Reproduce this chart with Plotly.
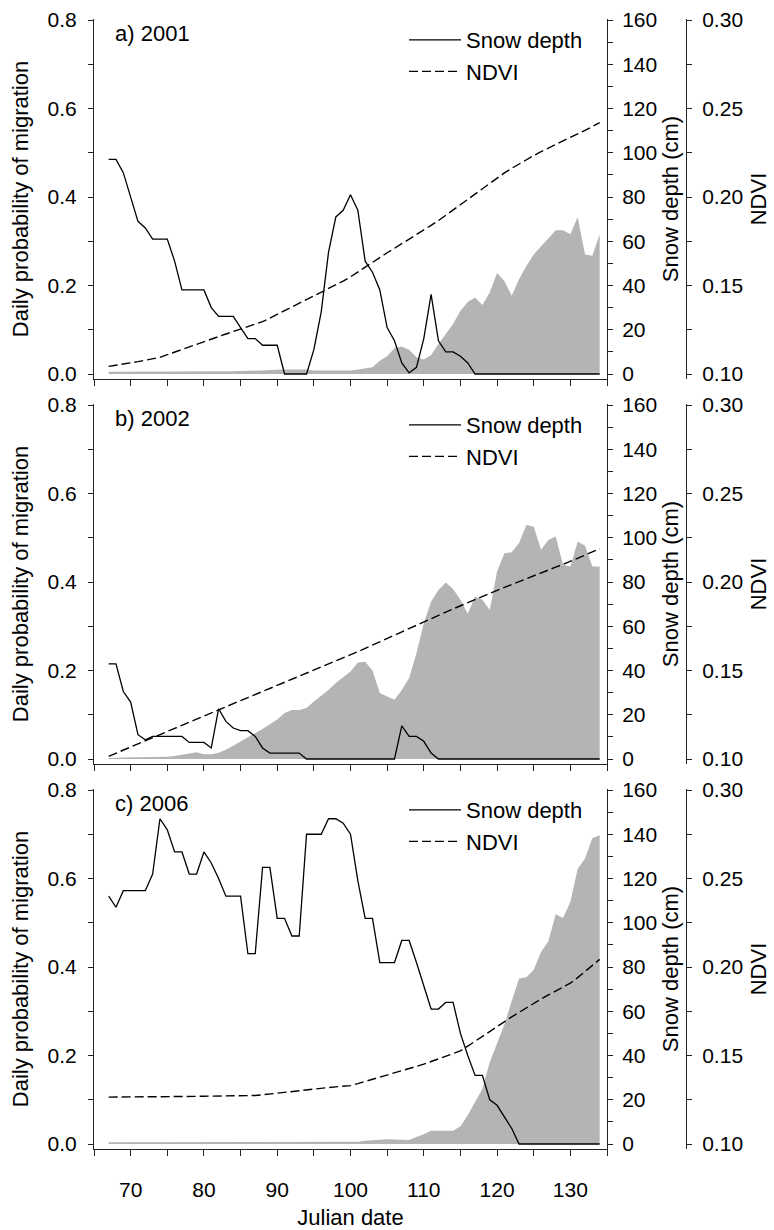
import plotly.graph_objects as go

# ---------------- data ----------------
days = list(range(67, 135))

prob_2001 = [0.005, 0.005, 0.005, 0.005, 0.005, 0.005, 0.005, 0.005, 0.005, 0.005,
             0.005, 0.005, 0.005, 0.005, 0.006, 0.006, 0.006, 0.006, 0.007, 0.007,
             0.007, 0.008, 0.009, 0.010, 0.010, 0.010, 0.010, 0.010, 0.008, 0.008,
             0.008, 0.008, 0.008, 0.008, 0.010, 0.012, 0.015, 0.030, 0.040, 0.058,
             0.062, 0.055, 0.038, 0.033, 0.043, 0.068, 0.090, 0.113, 0.143, 0.163,
             0.173, 0.156, 0.184, 0.228, 0.210, 0.177, 0.214, 0.244, 0.270, 0.289,
             0.308, 0.325, 0.325, 0.316, 0.355, 0.270, 0.267, 0.316]
snow_2001 = [97, 97, 91, 80, 69, 66, 61, 61, 61, 51,
             38, 38, 38, 38, 30, 26, 26, 26, 21, 16,
             16, 13, 13, 13, 0, 0, 0, 0, 11, 28,
             55, 71, 74, 81, 74, 51, 46, 38, 21, 15,
             5, 0.5, 3, 16, 36, 15, 10, 10, 8, 5,
             0, 0, 0, 0, 0, 0, 0, 0, 0, 0,
             0, 0, 0, 0, 0, 0, 0, 0]
ndvi_2001 = [0.1043, 0.1049, 0.1055, 0.1062, 0.1070, 0.1078, 0.1086, 0.1094, 0.1109, 0.1124,
             0.1140, 0.1155, 0.1169, 0.1184, 0.1198, 0.1212, 0.1226, 0.1240, 0.1254, 0.1268,
             0.1282, 0.1296, 0.1316, 0.1337, 0.1357, 0.1377, 0.1398, 0.1418, 0.1439, 0.1460,
             0.1481, 0.1502, 0.1525, 0.1549, 0.1577, 0.1604, 0.1632, 0.1660, 0.1685, 0.1710,
             0.1735, 0.1760, 0.1787, 0.1813, 0.1840, 0.1867, 0.1897, 0.1928, 0.1958, 0.1989,
             0.2019, 0.2049, 0.2080, 0.2110, 0.2136, 0.2162, 0.2187, 0.2213, 0.2234, 0.2256,
             0.2277, 0.2298, 0.2318, 0.2337, 0.2357, 0.2376, 0.2398, 0.2420]

prob_2002 = [0.002, 0.003, 0.003, 0.004, 0.004, 0.004, 0.005, 0.005, 0.005, 0.007,
             0.010, 0.012, 0.015, 0.011, 0.011, 0.014, 0.021, 0.030, 0.040, 0.049,
             0.059, 0.068, 0.078, 0.089, 0.104, 0.111, 0.111, 0.115, 0.130, 0.143,
             0.156, 0.172, 0.185, 0.198, 0.218, 0.220, 0.200, 0.149, 0.141, 0.134,
             0.156, 0.183, 0.239, 0.307, 0.356, 0.382, 0.399, 0.384, 0.360, 0.328,
             0.367, 0.360, 0.337, 0.424, 0.465, 0.467, 0.488, 0.529, 0.525, 0.473,
             0.495, 0.503, 0.439, 0.435, 0.491, 0.482, 0.435, 0.435]
snow_2002 = [43, 43, 30.5, 25.7, 11, 8.7, 10.2, 10.2, 10.2, 10.2,
             10.2, 7.5, 7.5, 7.5, 5, 22.7, 17, 14, 12.8, 12.8,
             10.2, 5, 2.7, 2.7, 2.7, 2.7, 2.7, 0, 0, 0,
             0, 0, 0, 0, 0, 0, 0, 0, 0, 0,
             15, 10.2, 10.2, 8, 2.7, 0, 0, 0, 0, 0,
             0, 0, 0, 0, 0, 0, 0, 0, 0, 0,
             0, 0, 0, 0, 0, 0, 0, 0]
ndvi_2002 = [0.1015, 0.1033, 0.1050, 0.1068, 0.1085, 0.1103, 0.1120, 0.1138, 0.1155, 0.1173,
             0.1190, 0.1208, 0.1225, 0.1243, 0.1260, 0.1278, 0.1295, 0.1312, 0.1330, 0.1347,
             0.1364, 0.1381, 0.1398, 0.1416, 0.1433, 0.1450, 0.1467, 0.1484, 0.1501, 0.1519,
             0.1536, 0.1553, 0.1570, 0.1587, 0.1606, 0.1625, 0.1644, 0.1663, 0.1682, 0.1701,
             0.1720, 0.1739, 0.1758, 0.1777, 0.1795, 0.1813, 0.1830, 0.1848, 0.1866, 0.1883,
             0.1901, 0.1918, 0.1936, 0.1953, 0.1970, 0.1986, 0.2003, 0.2019, 0.2036, 0.2052,
             0.2068, 0.2084, 0.2100, 0.2116, 0.2134, 0.2152, 0.2170, 0.2188]

prob_2006 = [0.004, 0.004, 0.004, 0.004, 0.004, 0.004, 0.004, 0.004, 0.004, 0.004,
             0.004, 0.004, 0.004, 0.004, 0.005, 0.005, 0.005, 0.005, 0.005, 0.005,
             0.005, 0.005, 0.005, 0.005, 0.005, 0.005, 0.005, 0.005, 0.005, 0.005,
             0.005, 0.005, 0.005, 0.005, 0.005, 0.0075, 0.009, 0.011, 0.011, 0.010,
             0.009, 0.009, 0.016, 0.022, 0.030, 0.030, 0.030, 0.030, 0.040, 0.065,
             0.095, 0.125, 0.185, 0.226, 0.270, 0.323, 0.374, 0.377, 0.394, 0.434,
             0.458, 0.519, 0.511, 0.547, 0.622, 0.645, 0.691, 0.698]
snow_2006 = [112, 107, 114.5, 114.5, 114.5, 114.5, 122, 147, 142, 132,
             132, 122, 122, 132, 127, 120, 112, 112, 112, 86,
             86, 125, 125, 102, 102, 94, 94, 140, 140, 140,
             147, 147, 145, 140, 119, 102, 102, 82, 82, 82,
             92, 92, 82, 71, 61, 61, 64, 64, 50, 40,
             31, 31, 20, 17.5, 12, 7, 0, 0, 0, 0,
             0, 0, 0, 0, 0, 0, 0, 0]
ndvi_2006 = [0.1265, 0.1265, 0.1265, 0.1266, 0.1266, 0.1266, 0.1267, 0.1267, 0.1267, 0.1268,
             0.1268, 0.1269, 0.1269, 0.1270, 0.1270, 0.1271, 0.1271, 0.1272, 0.1272, 0.1273,
             0.1274, 0.1278, 0.1283, 0.1287, 0.1292, 0.1297, 0.1302, 0.1307, 0.1312, 0.1316,
             0.1319, 0.1323, 0.1326, 0.1330, 0.1341, 0.1353, 0.1365, 0.1378, 0.1390, 0.1402,
             0.1414, 0.1427, 0.1439, 0.1451, 0.1466, 0.1481, 0.1496, 0.1511, 0.1526, 0.1553,
             0.1581, 0.1610, 0.1638, 0.1666, 0.1692, 0.1718, 0.1744, 0.1770, 0.1797, 0.1819,
             0.1842, 0.1864, 0.1887, 0.1909, 0.1940, 0.1973, 0.2008, 0.2043]

panel_labels = ["a) 2001", "b) 2002", "c) 2006"]
prob_ticks = [0.0, 0.2, 0.4, 0.6, 0.8]
snow_ticks = [0, 20, 40, 60, 80, 100, 120, 140, 160]
ndvi_ticks = [0.10, 0.15, 0.20, 0.25, 0.30]
x_ticks = [70, 80, 90, 100, 110, 120, 130]

# ---------------- styling ----------------
FONT = "Liberation Sans, Arial, sans-serif"
TICKF = dict(family=FONT, size=21, color="black")
TITLEF = dict(family=FONT, size=22, color="black")
AXC = "#222222"
GREY = "rgb(180,180,180)"

W, H = 774, 1230
ML, MR, MT, MB = 94, 88, 19, 81
PW = W - ML - MR
PH = H - MT - MB
XD = (607 - ML) / PW

panel_tops = [19, 404, 789]
PANEL_H = 360

def py(ypx):
    return (H - MB - ypx) / PH

series = [(prob_2001, snow_2001, ndvi_2001),
          (prob_2002, snow_2002, ndvi_2002),
          (prob_2006, snow_2006, ndvi_2006)]

fig = go.Figure()
layout = dict(
    width=W, height=H,
    margin=dict(l=ML, r=MR, t=MT, b=MB, pad=0),
    paper_bgcolor="white", plot_bgcolor="rgba(0,0,0,0)",
    font=dict(family=FONT, color="black"),
    showlegend=True,
    annotations=[],
)

PROB_RANGE = [-0.0113, 0.8023]
SNOW_RANGE = [-2.26, 160.45]
NDVI_RANGE = [0.10 - 0.002825, 0.300565]

def yname(n):
    return "y" if n == 1 else f"y{n}"

def xname(n):
    return "x" if n == 1 else f"x{n}"

def ykey(n):
    return "yaxis" if n == 1 else f"yaxis{n}"

def xkey(n):
    return "xaxis" if n == 1 else f"xaxis{n}"

for k in range(3):
    prob, snow, ndvi = series[k]
    xn = k + 1
    yp, ys, yn = 3 * k + 1, 3 * k + 2, 3 * k + 3
    leg = "legend" if k == 0 else f"legend{k + 1}"

    fig.add_trace(go.Scatter(
        x=days, y=prob, mode="lines", fill="tozeroy", fillcolor=GREY,
        line=dict(width=0, color=GREY), showlegend=False,
        xaxis=xname(xn), yaxis=yname(yp), hoverinfo="skip"))
    fig.add_trace(go.Scatter(
        x=days, y=snow, mode="lines", name="Snow depth",
        line=dict(color="black", width=1.3),
        xaxis=xname(xn), yaxis=yname(ys), legend=leg))
    fig.add_trace(go.Scatter(
        x=days, y=ndvi, mode="lines", name="NDVI",
        line=dict(color="black", width=1.4, dash="9px,4px"),
        xaxis=xname(xn), yaxis=yname(yn), legend=leg))

    top = panel_tops[k]
    bot = top + PANEL_H
    dom = [py(bot), py(top)]

    layout[xkey(xn)] = dict(
        domain=[0, XD], anchor=yname(yp), range=[65, 135],
        tickmode="array", tickvals=x_ticks, ticktext=[str(v) for v in x_ticks],
        ticks="outside", ticklen=6, tickwidth=1, tickcolor=AXC,
        minor=dict(tickmode="linear", tick0=65, dtick=5, ticks="outside", ticklen=6, tickcolor=AXC),
        showline=True, linecolor=AXC, linewidth=1,
        showgrid=False, zeroline=False,
        showticklabels=(k == 2), tickfont=TICKF, ticklabelstandoff=16,
        automargin=False,
        title=dict(text="Julian date" if k == 2 else "", font=TITLEF, standoff=14),
    )
    layout[ykey(yp)] = dict(
        domain=dom, anchor=xname(xn), range=PROB_RANGE,
        tickmode="array", tickvals=prob_ticks, ticktext=[f"{v:.1f}" for v in prob_ticks],
        ticks="outside", ticklen=5, tickcolor=AXC,
        minor=dict(tickmode="linear", tick0=0, dtick=0.1, ticks="outside", ticklen=5, tickcolor=AXC),
        showline=True, linecolor=AXC, linewidth=1,
        showgrid=False, zeroline=False, tickfont=TICKF, ticklabelstandoff=7,
        automargin=False,
        title=dict(text="Daily probability of migration", font=TITLEF, standoff=12),
    )
    layout[ykey(ys)] = dict(
        overlaying=yname(yp), anchor=xname(xn), side="right", range=SNOW_RANGE,
        tickmode="array", tickvals=snow_ticks, ticktext=[str(v) for v in snow_ticks],
        ticks="outside", ticklen=5, tickcolor=AXC,
        minor=dict(tickmode="linear", tick0=0, dtick=10, ticks="outside", ticklen=5, tickcolor=AXC),
        showline=True, linecolor=AXC, linewidth=1,
        showgrid=False, zeroline=False, tickfont=TICKF, ticklabelstandoff=5,
        automargin=False,
        title=dict(text="Snow depth (cm)", font=TITLEF, standoff=6),
    )
    layout[ykey(yn)] = dict(
        overlaying=yname(yp), anchor="free", position=1.0, side="right", range=NDVI_RANGE,
        tickmode="array", tickvals=ndvi_ticks, ticktext=[f"{v:.2f}" for v in ndvi_ticks],
        ticks="outside", ticklen=5, tickcolor=AXC,
        minor=dict(tickmode="linear", tick0=0.1, dtick=0.025, ticks="outside", ticklen=5, tickcolor=AXC),
        showline=True, linecolor=AXC, linewidth=1,
        showgrid=False, zeroline=False, tickfont=TICKF, ticklabelstandoff=6,
        automargin=False,
        title=dict(text="NDVI", font=TITLEF, standoff=8),
    )
    layout[leg] = dict(
        x=(404 - ML) / PW, y=py(top), xanchor="left", yanchor="top",
        bgcolor="rgba(0,0,0,0)", borderwidth=0,
        font=dict(family=FONT, size=22, color="black"),
        itemwidth=52, tracegroupgap=0,
    )
    layout["annotations"].append(dict(
        text=panel_labels[k], xref="paper", yref="paper",
        x=(113 - ML) / PW, y=py(top + 14), xanchor="left", yanchor="middle",
        showarrow=False, font=TITLEF))

fig.update_layout(**layout)
fig.write_html("out.html", config={"displayModeBar": False},
               post_script="document.body.style.margin='0px';")
